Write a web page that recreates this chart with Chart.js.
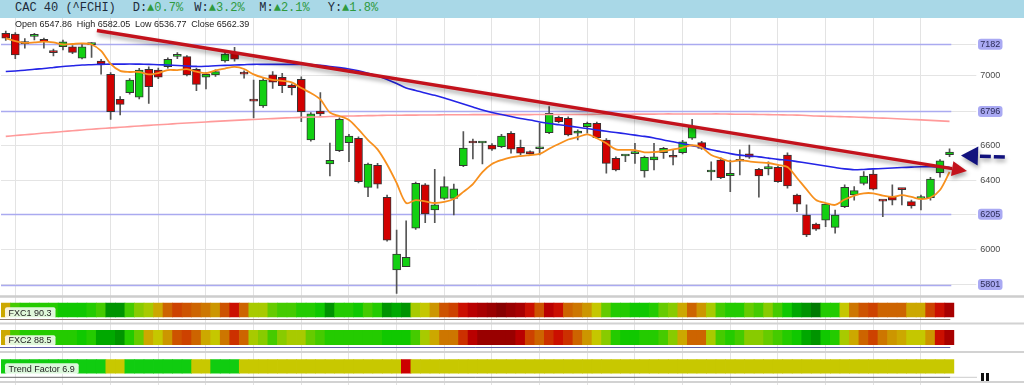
<!DOCTYPE html>
<html><head><meta charset="utf-8">
<script src="https://cdn.jsdelivr.net/npm/chart.js@4.4.1/dist/chart.umd.min.js"></script>
<style>
html,body{margin:0;padding:0;background:#fff;}
body{width:1024px;height:385px;position:relative;overflow:hidden;font-family:"Liberation Sans",Arial,sans-serif;}
#hdr{position:absolute;left:0;top:0;width:1024px;height:17.5px;background:#a9d8e7;font-family:"Liberation Mono","DejaVu Sans Mono",monospace;font-size:12px;color:#1d2b3a;}
#hdr span{position:absolute;top:1px;line-height:15px;white-space:pre;}
#hdr .up{position:static;color:#2f9a3e;}
#wrap{position:absolute;left:0;top:18px;width:1024px;height:367px;}
.pz{position:absolute;top:373px;width:3px;height:7.5px;background:#111;}
</style></head><body>
<div id="hdr"></div>
<div id="wrap"><canvas id="c"></canvas></div>
<div class="pz" style="left:981px"></div><div class="pz" style="left:986px"></div>
<script>
// ---------------- DATA ----------------
const instrument = 'CAC 40 (^FCHI)';
const changePeriods = ['D', 'W', 'M', 'Y'];
const changeValues = [0.7, 3.2, 2.1, 1.8];

const opens = [7245,7241,7190,7228,7211,7138,7168,7168,7102,7180,
 7086,7010,6866,6904,6878,7038,7034,7053,7113,7111,
 7038,6993,7006,7086,7136,7021,6866,6828,7006,6993,
 6948,6981,6632,6799,6494,6571,6617,6642,6360,6487,
 6303,5885,5904,6125,6374,6230,6297,6297,6485,6619,
 6615,6603,6594,6671,6590,6565,6582,6674,6763,6757,
 6671,6709,6728,6632,6527,6540,6554,6454,6517,6559,
 6540,6559,6642,6617,6448,6517,6427,6510,6552,6464,
 6466,6475,6546,6316,6201,6149,6172,6130,6249,6316,
 6383,6437,6283,6306,6349,6278,6295,6301,6444,6547.86];
const highs = [7258,7250,7215,7245,7218,7155,7207,7175,7185,7192,
 7096,7020,6881,6985,7044,7053,7045,7105,7135,7118,
 7045,7020,7035,7140,7165,7030,6977,6985,7025,7016,
 6955,6995,6790,6904,6615,6760,6665,6650,6500,6498,
 6316,6115,6167,6390,6382,6464,6421,6379,6680,6638,
 6620,6612,6665,6680,6632,6570,6728,6824,6770,6765,
 6690,6735,6735,6640,6535,6546,6613,6540,6613,6590,
 6575,6630,6751,6625,6507,6529,6517,6575,6603,6470,
 6507,6482,6559,6322,6259,6155,6270,6230,6374,6364,
 6450,6460,6285,6374,6351,6287,6316,6418,6520,6582.05];
const lows = [7205,7100,7160,7207,7160,7115,7150,7128,7098,7107,
 7011,6751,6776,6895,6868,6843,6985,7045,7100,7000,
 6915,6925,6998,7080,7085,6987,6759,6820,6929,6904,
 6891,6737,6625,6766,6425,6565,6507,6385,6306,6355,
 6050,5751,5952,6118,6157,6157,6290,6201,6479,6523,
 6494,6572,6588,6556,6546,6545,6546,6668,6730,6655,
 6632,6671,6640,6441,6455,6507,6498,6418,6460,6527,
 6489,6552,6635,6578,6402,6410,6335,6431,6527,6303,
 6431,6388,6355,6220,6076,6112,6134,6096,6243,6287,
 6374,6345,6191,6259,6259,6240,6230,6287,6418,6536.77];
const closes = [7217,7121,7186,7232,7197,7134,7197,7136,7168,7184,
 7069,6795,6837,6977,7034,6938,6993,7096,7117,7006,
 6952,7010,7025,7126,7096,7011,6856,6977,6964,6944,
 6933,6795,6782,6782,6516,6751,6655,6393,6494,6379,
 6057,5977,5958,6383,6207,6259,6364,6351,6585,6615,
 6618,6580,6655,6580,6556,6552,6586,6786,6737,6661,
 6684,6728,6645,6498,6460,6544,6558,6533,6536,6584,
 6533,6622,6709,6584,6452,6416,6441,6514,6533,6425,
 6479,6393,6368,6264,6086,6119,6264,6201,6360,6341,
 6425,6349,6281,6287,6347,6253,6299,6408,6512,6562.39];

// orange (short average), blue (medium average), pink (long average)
const maShort = [7218,7201,7190,7193,7198,7193,7181,7184,7187,7181,
 7144,7069,7029,7023,7023,7009,7017,7034,7034,7039,
 7025,7016,7032,7043,7052,7040,7009,6990,6978,6972,
 6963,6931,6902,6865,6790,6770,6747,6693,6632,6578,
 6491,6385,6270,6287,6279,6270,6276,6293,6334,6379,
 6448,6494,6517,6532,6540,6546,6552,6582,6609,6635,
 6649,6664,6642,6613,6578,6575,6574,6561,6563,6569,
 6578,6589,6602,6589,6546,6526,6509,6516,6509,6503,
 6500,6489,6477,6414,6348,6287,6270,6259,6290,6313,
 6326,6326,6313,6305,6315,6305,6293,6302,6345,6448];
const maMid = [7026,7029,7033,7039,7043,7049,7055,7059,7063,7065,
 7067,7068,7068,7069,7068,7067,7065,7063,7060,7057,
 7055,7056,7059,7061,7063,7065,7067,7067,7067,7067,
 7067,7067,7066,7061,7055,7048,7040,7030,7016,7000,
 6980,6957,6931,6917,6902,6889,6874,6856,6839,6822,
 6805,6790,6779,6767,6756,6747,6736,6727,6720,6713,
 6705,6698,6690,6682,6675,6668,6660,6653,6644,6632,
 6622,6611,6600,6589,6576,6565,6554,6545,6540,6535,
 6528,6521,6516,6508,6500,6491,6483,6474,6466,6461,
 6463,6466,6468,6471,6474,6476,6478,6478,6477,6475];
const maLong = [6653,6658,6662,6667,6672,6676,6681,6685,6690,6694,
 6698,6702,6705,6709,6713,6716,6720,6723,6727,6730,
 6733,6736,6739,6742,6745,6748,6750,6753,6755,6758,
 6760,6762,6764,6765,6767,6769,6770,6771,6772,6773,
 6774,6774,6775,6775,6776,6776,6777,6777,6777,6778,
 6778,6778,6778,6778,6778,6778,6779,6779,6779,6779,
 6779,6779,6780,6780,6780,6780,6781,6781,6781,6782,
 6782,6782,6782,6782,6782,6782,6781,6780,6780,6779,
 6778,6777,6776,6775,6773,6770,6769,6767,6766,6764,
 6762,6760,6758,6756,6753,6750,6748,6745,6742,6739];

const levelLines = [7182, 6796, 6205, 5801];
const yTickValues = [7182, 7000, 6796, 6600, 6400, 6205, 6000, 5801];
// trend line and pointer arrow as [candle index, price]
const trendLineStart = [9.56, 7261];
const trendLineEnd = [100.83, 6454];
const pointerTail = [104.8, 6534];
const pointerTip = [100.2, 6543];

// heat strip scores (0 = weakest/red .. 21 = strongest/dark green)
const fxc1 = [11,16,17,17,17,17,18,18,18,17,
 16,20,20,16,14,13,11,8,6,7,
 8,9,10,7,4,8,13,13,15,16,
 16,17,17,18,20,17,17,18,16,17,
 20,19,20,13,12,10,7,6,4,3,
 2,1,0,1,2,4,7,3,4,8,
 9,10,12,15,17,17,18,18,17,15,
 14,11,8,10,13,16,17,17,15,16,
 14,16,18,19,20,21,17,17,12,9,
 7,6,8,8,8,11,11,6,4,2];
const fxc2 = [11,16,17,17,17,17,17,17,18,17,
 19,19,20,17,15,11,12,10,7,6,
 8,11,12,9,5,8,13,14,16,14,
 13,13,15,16,17,17,17,17,17,17,
 18,18,18,16,13,11,9,9,5,3,
 1,1,1,1,3,6,8,5,4,5,
 8,10,12,14,17,18,18,17,17,16,
 14,11,8,8,13,16,17,16,14,14,
 15,16,17,18,19,20,18,17,13,11,
 8,6,9,10,11,12,12,10,4,2];
// trend factor state: 1 up, 0 neutral, -1 down
const trendState = [1,1,1,1,1,1,1,1,1,1,
 1,0,0,1,1,1,1,1,1,1,
 0,0,1,1,1,0,0,0,0,0,
 0,0,0,0,0,0,0,0,0,0,
 0,0,-1,0,0,0,0,0,0,0,
 0,0,0,0,0,0,0,0,0,0,
 0,0,0,0,0,0,0,0,0,0,
 0,0,0,0,0,0,0,0,0,0,
 0,0,0,0,0,0,0,0,0,0,
 0,0,0,0,0,0,0,0,0,0];
const fxc1Value = 90.3;
const fxc2Value = 88.5;
const trendValue = 6.9;

const categories = opens.map((_, i) => 'd' + (i + 1));

// ---------------- STYLE / LAYOUT ----------------
const heatPalette = ['#870000','#990000','#a80000','#b90000','#cb0f00','#cc3000','#cd4200','#cd5300',
 '#cd6400','#cd7600','#cc9600','#cca800','#c5c700','#a8ca00','#88cb00','#66cb00','#45cb00','#24cb00',
 '#10c800','#00a800','#009400','#007a00'];
const trendPalette = {'1': '#10cc10', '0': '#c8c800', '-1': '#cc0000'};
const UP = '#12d012', DOWN = '#d20000';
const STRIP1 = [284.7, 299.3], STRIP2 = [312, 327], STRIP3 = [341.3, 355.5];

// header
(function () {
  const hdr = document.getElementById('hdr');
  const xs = [132.7, 194.3, 259.3, 327.7];
  let html = '<span style="left:15px">' + instrument + '</span>';
  changePeriods.forEach((p, i) => {
    html += '<span style="left:' + xs[i] + 'px">' + p + ':<span class="up">\u25B2' + changeValues[i].toFixed(1) + '%</span></span>';
  });
  hdr.innerHTML = html;
})();

function rr(c, x, y, w, h, r) {
  c.beginPath();
  if (c.roundRect) c.roundRect(x, y, w, h, r); else c.rect(x, y, w, h);
}

const decor = {
  id: 'decor',
  beforeDraw(chart) {
    const y = chart.scales.y, c = chart.ctx;
    c.save();
    c.fillStyle = '#a9a9f3';
    levelLines.forEach(v => {
      const py = y.getPixelForValue(v);
      rr(c, y.left + 23.7, py - 5.5, 24.5, 11, 3);
      c.fill();
    });
    c.restore();
  },
  beforeDatasetsDraw(chart) {
    const y = chart.scales.y, c = chart.ctx, a = chart.chartArea, W = chart.width;
    c.save();
    c.strokeStyle = '#aaaaf0'; c.lineWidth = 1.5;
    levelLines.forEach(v => {
      const py = Math.round(y.getPixelForValue(v)) + 0.5;
      c.beginPath(); c.moveTo(a.left, py); c.lineTo(a.right - 3, py); c.stroke();
    });
    // panel separators
    c.strokeStyle = '#cdcdcd'; c.lineWidth = 2.5;
    c.beginPath(); c.moveTo(0, 278.5); c.lineTo(W, 278.5); c.stroke();
    c.lineWidth = 2; c.strokeStyle = '#d2d2d2';
    [305.5, 334, 364].forEach(py => { c.beginPath(); c.moveTo(0, py); c.lineTo(W, py); c.stroke(); });
    c.lineWidth = 1;
    [[301.5, '#8c7a70'], [329.5, '#6060a8'], [359.3, '#666666']].forEach(([py, col]) => {
      c.strokeStyle = col; c.beginPath(); c.moveTo(0, py); c.lineTo(a.right - 4, py); c.stroke();
    });
    c.strokeStyle = '#cccccc'; c.beginPath(); c.moveTo(a.right - 4, 359.3); c.lineTo(977, 359.3); c.stroke();
    c.restore();
  },
  afterDatasetsDraw(chart) {
    const x = chart.scales.x, y = chart.scales.y, c = chart.ctx;
    c.save();
    // OHLC line
    c.font = '9px "Liberation Sans", Arial, sans-serif';
    c.fillStyle = '#222'; c.textBaseline = 'middle';
    const n = opens.length - 1;
    const parts = ['Open ' + opens[n].toFixed(2), 'High ' + highs[n].toFixed(2), 'Low ' + lows[n].toFixed(2), 'Close ' + closes[n].toFixed(2)];
    let tx = 15;
    parts.forEach(p => { c.fillText(p, tx, 6.5); tx += c.measureText(p).width + 4.7; });

    // panel labels
    [[fxc1Value, 'FXC1 ', 289.3, 11], [fxc2Value, 'FXC2 ', 317.2, 10.5], [trendValue, 'Trend Factor ', 345.3, 10.7]].forEach(([v, lab, top, h]) => {
      const t = lab + v.toFixed(1);
      const w = c.measureText(t).width;
      c.fillStyle = 'rgba(255,255,255,0.85)';
      rr(c, 5, top, w + 7.5, h, 2); c.fill();
      c.fillStyle = '#222';
      c.fillText(t, 8.5, top + h / 2 + 0.5);
    });

    // trend line with arrow head
    const p0 = [x.getPixelForValue(trendLineStart[0]), y.getPixelForValue(trendLineStart[1])];
    const p1 = [x.getPixelForValue(trendLineEnd[0]), y.getPixelForValue(trendLineEnd[1])];
    let ang = Math.atan2(p1[1] - p0[1], p1[0] - p0[0]);
    c.shadowColor = 'rgba(0,0,0,0.35)'; c.shadowBlur = 4; c.shadowOffsetX = 1; c.shadowOffsetY = 3;
    c.strokeStyle = '#c3121c'; c.fillStyle = '#c3121c'; c.lineWidth = 3.5; c.lineCap = 'butt';
    const hl = 15, hw = 7.5;
    const bx = p1[0] - hl * Math.cos(ang), by = p1[1] - hl * Math.sin(ang);
    c.beginPath(); c.moveTo(p0[0], p0[1]); c.lineTo(bx, by); c.stroke();
    c.beginPath(); c.moveTo(p1[0], p1[1]);
    c.lineTo(bx + hw * Math.sin(ang), by - hw * Math.cos(ang));
    c.lineTo(bx - hw * Math.sin(ang), by + hw * Math.cos(ang));
    c.closePath(); c.fill();

    // pointer arrow (dashed)
    const q0 = [x.getPixelForValue(pointerTail[0]), y.getPixelForValue(pointerTail[1])];
    const q1 = [x.getPixelForValue(pointerTip[0]), y.getPixelForValue(pointerTip[1])];
    ang = Math.atan2(q1[1] - q0[1], q1[0] - q0[0]);
    const hl2 = 17, hw2 = 9.5;
    const cx = q1[0] - hl2 * Math.cos(ang), cy = q1[1] - hl2 * Math.sin(ang);
    c.strokeStyle = '#12127e'; c.fillStyle = '#12127e'; c.lineWidth = 3.5;
    c.setLineDash([11, 3]);
    c.beginPath(); c.moveTo(q0[0], q0[1]); c.lineTo(cx - 2 * Math.cos(ang), cy - 2 * Math.sin(ang)); c.stroke();
    c.setLineDash([]);
    c.beginPath(); c.moveTo(q1[0], q1[1]);
    c.lineTo(cx + hw2 * Math.sin(ang), cy - hw2 * Math.cos(ang));
    c.lineTo(cx - hw2 * Math.sin(ang), cy + hw2 * Math.cos(ang));
    c.closePath(); c.fill();
    c.restore();
  }
};

const stripData = (arr, band) => arr.map(() => band);

new Chart(document.getElementById('c'), {
  type: 'bar',
  data: {
    labels: categories,
    datasets: [
      { type: 'line', data: maShort, borderColor: '#f7901e', borderWidth: 1.8, pointRadius: 0, tension: 0.3, order: 1, yAxisID: 'y' },
      { type: 'line', data: maMid, borderColor: '#2424e6', borderWidth: 1.6, pointRadius: 0, tension: 0.3, order: 2, yAxisID: 'y' },
      { type: 'line', data: maLong, borderColor: '#ff9a9a', borderWidth: 1.6, pointRadius: 0, tension: 0.3, order: 3, yAxisID: 'y' },
      { data: opens.map((o, i) => [o, closes[i]]), backgroundColor: closes.map((c, i) => c >= opens[i] ? UP : DOWN),
        borderColor: '#353535', borderWidth: 1, borderSkipped: false, barThickness: 8, minBarLength: 2, grouped: false, order: 4, yAxisID: 'y' },
      { data: lows.map((l, i) => [l, highs[i]]), backgroundColor: '#555', borderWidth: 0, barThickness: 1, grouped: false, order: 5, yAxisID: 'y' },
      { data: stripData(fxc1, STRIP1), backgroundColor: fxc1.map(v => heatPalette[v]), borderWidth: 0, barPercentage: 1.08, categoryPercentage: 1, grouped: false, order: 6, yAxisID: 'yH' },
      { data: stripData(fxc2, STRIP2), backgroundColor: fxc2.map(v => heatPalette[v]), borderWidth: 0, barPercentage: 1.08, categoryPercentage: 1, grouped: false, order: 7, yAxisID: 'yH' },
      { data: stripData(trendState, STRIP3), backgroundColor: trendState.map(v => trendPalette[String(v)]), borderWidth: 0, barPercentage: 1.08, categoryPercentage: 1, grouped: false, order: 8, yAxisID: 'yH' }
    ]
  },
  options: {
    responsive: true, maintainAspectRatio: false, animation: false,
    layout: { padding: { left: 1, right: 0, top: 0, bottom: 0 } },
    plugins: { legend: { display: false }, tooltip: { enabled: false } },
    scales: {
      x: {
        type: 'category', offset: true, display: true,
        grid: { offset: false, drawTicks: false, color: c => (c.index % 5 === 1 ? '#e3e3e3' : 'rgba(0,0,0,0)'), lineWidth: 1 },
        ticks: { display: false, autoSkip: false }, border: { display: false }
      },
      y: {
        type: 'linear', position: 'right', min: 5224.1, max: 7333.3,
        afterBuildTicks: s => { s.ticks = yTickValues.map(v => ({ value: v })); },
        afterFit: s => { s.width = 69.7; s.paddingTop = 0; s.paddingBottom = 0; },
        grid: { color: '#e4e4e4', lineWidth: 1, drawTicks: true, tickLength: 22, tickColor: '#e4e4e4' },
        border: { display: false },
        ticks: {
          font: { family: '"Liberation Sans", Arial, sans-serif', size: 9 },
          color: c => (levelLines.includes(c.tick.value) ? '#2a2a55' : '#4a4a4a'),
          padding: 4, callback: v => String(v)
        }
      },
      yH: { type: 'linear', display: false, reverse: true, min: 0, max: 367 }
    }
  },
  plugins: [decor]
});
</script>
</body></html>
